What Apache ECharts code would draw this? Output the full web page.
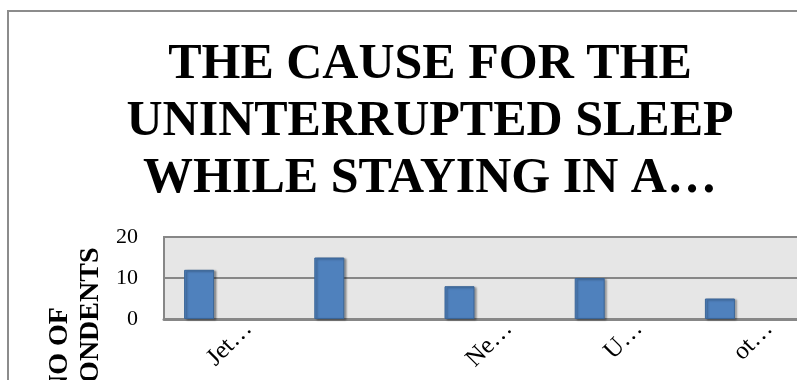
<!DOCTYPE html>
<html>
<head>
<meta charset="utf-8">
<title>THE CAUSE FOR THE UNINTERRUPTED SLEEP</title>
<script src="https://cdn.jsdelivr.net/npm/echarts@6/dist/echarts.min.js"></script>
<style>
  html, body { margin: 0; padding: 0; background: #ffffff; }
  #chart { width: 797px; height: 380px; }
</style>
</head>
<body>
<div id="chart"></div>
<script>
// Causes (labels as shown, shortened) and number of respondents for each
const categories = ['Jet…', '', 'Ne…', 'U…', 'ot…'];
const respondents = [12, 15, 8, 10, 5];
// Empty companion columns that share each category slot
const secondColumn = [null, null, null, null, null];
const thirdColumn = [null, null, null, null, null];
// Value axis range and step
const yMin = 0;
const yMax = 20;
const yStep = 10;

const titleText = 'THE CAUSE FOR THE\nUNINTERRUPTED SLEEP\nWHILE STAYING IN A…';
const yAxisTitle = 'NO OF\nRESPONDENTS';

const serif = '"Liberation Serif", "Times New Roman", serif';
const chart = echarts.init(document.getElementById('chart'), null, { renderer: 'canvas' });

chart.setOption({
  backgroundColor: '#ffffff',
  animation: false,
  title: {
    text: titleText,
    left: 425,
    top: 32,
    textAlign: 'center',
    textStyle: {
      fontFamily: serif,
      fontWeight: 'bold',
      fontSize: 50,
      lineHeight: 57,
      color: '#000000'
    }
  },
  graphic: [
    {
      // outer chart frame
      type: 'rect',
      silent: true,
      z: -10,
      shape: { x: 8, y: 11, width: 1000, height: 600 },
      style: { fill: 'none', stroke: '#8c8c8c', lineWidth: 2 }
    },
    {
      type: 'text',
      silent: true,
      x: 75,
      y: 351,
      rotation: Math.PI / 2,
      style: {
        text: yAxisTitle,
        fontFamily: serif,
        fontWeight: 'bold',
        fontSize: 28,
        lineHeight: 31,
        align: 'center',
        verticalAlign: 'middle',
        fill: '#000000'
      }
    }
  ],
  grid: {
    left: 164,
    top: 237,
    right: -18,
    bottom: 61,
    show: true,
    backgroundColor: '#e6e6e6',
    borderColor: '#878787',
    borderWidth: 2,
    outerBoundsMode: 'none',
    containLabel: false
  },
  xAxis: {
    type: 'category',
    data: categories,
    boundaryGap: true,
    axisLine: { show: true, lineStyle: { color: '#878787', width: 3 } },
    axisTick: { show: false },
    axisLabel: {
      interval: 0,
      rotate: 45,
      margin: 25,
      padding: [44, -27, 0, 0],
      fontFamily: serif,
      fontSize: 25,
      color: '#000000'
    },
    splitLine: { show: false }
  },
  yAxis: {
    type: 'value',
    min: yMin,
    max: yMax,
    interval: yStep,
    axisLine: { show: false },
    axisTick: { show: false },
    axisLabel: {
      margin: 26,
      fontFamily: serif,
      fontSize: 22,
      color: '#000000'
    },
    splitLine: { show: true, lineStyle: { color: '#878787', width: 2 } }
  },
  series: [
    {
      name: 'Respondents',
      type: 'bar',
      data: respondents,
      barWidth: 30,
      barGap: '0%',
      itemStyle: {
        color: '#4f81bd',
        borderColor: '#3a6597',
        borderWidth: 1,
        shadowColor: 'rgba(0, 0, 0, 0.35)',
        shadowOffsetX: 2,
        shadowOffsetY: 1,
        shadowBlur: 2
      }
    },
    { name: 'Column 2', type: 'bar', data: secondColumn, barWidth: 30, barGap: '0%' },
    { name: 'Column 3', type: 'bar', data: thirdColumn, barWidth: 30, barGap: '0%' }
  ]
});
</script>
</body>
</html>
